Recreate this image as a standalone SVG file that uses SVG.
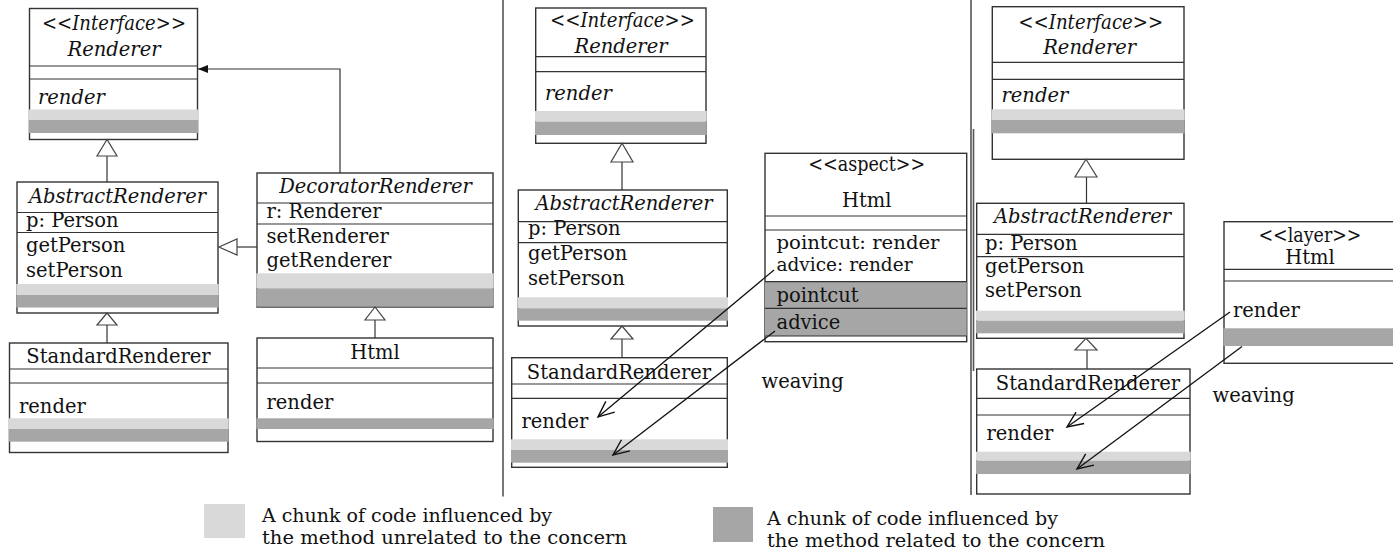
<svg xmlns="http://www.w3.org/2000/svg" width="1393" height="549" viewBox="0 0 1393 549">
  <style>
    text { font-family: "DejaVu Serif", "Liberation Serif", serif; font-size: 19.5px; fill: #111; }
    .it { font-style: italic; }
    .c { text-anchor: middle; }
    .sm { font-size: 18.5px; }
    .box { fill: #fff; stroke: #333; stroke-width: 1.4; }
    .dv { stroke: #333; stroke-width: 1.2; }
    .lt { fill: #d9d9d9; }
    .dk { fill: #a6a6a6; }
    .tri { fill: #fff; stroke: #444; stroke-width: 1.2; }
    .ln { fill: none; stroke: #333; stroke-width: 1.2; }
    .sep { stroke: #555; stroke-width: 1.6; }
    .weave { fill: none; stroke: #111; stroke-width: 1.3; marker-end: url(#open); }
  </style>
  <defs>
    <marker id="open" markerUnits="userSpaceOnUse" markerWidth="20" markerHeight="16" viewBox="0 0 20 16" refX="17" refY="8" orient="auto" overflow="visible">
      <path d="M1,1 L17,8 L1,15" fill="none" stroke="#111" stroke-width="1.4"/>
    </marker>
    <marker id="filled" markerUnits="userSpaceOnUse" markerWidth="10" markerHeight="8" viewBox="0 0 10 8" refX="10" refY="4" orient="auto">
      <path d="M0,0 L10,4 L0,8 Z" fill="#111"/>
    </marker>
  </defs>

  <rect width="1393" height="549" fill="#fff"/>

  <!-- panel separators -->
  <g id="separators">
    <line class="sep" x1="503" y1="0" x2="503" y2="496.5"/>
    <line class="sep" x1="971" y1="0" x2="971" y2="495"/>
    <line class="sep" x1="973.5" y1="129" x2="973.5" y2="371" stroke-width="1"/>
  </g>

  <!-- ===== Decorator pattern ===== -->
  <g id="l-renderer">
    <rect class="box" x="29.5" y="8.5" width="168" height="131"/>
    <line class="dv" x1="29.5" y1="66" x2="197.5" y2="66"/>
    <line class="dv" x1="29.5" y1="79" x2="197.5" y2="79"/>
    <rect class="lt" x="28.8" y="109.5" width="169.4" height="10.5"/>
    <rect class="dk" x="28.8" y="120" width="169.4" height="13"/>
    <text class="it c" x="114" y="30" textLength="144" lengthAdjust="spacingAndGlyphs">&lt;&lt;Interface&gt;&gt;</text>
    <text class="it c" x="114" y="56">Renderer</text>
    <text class="it" x="38" y="104">render</text>
  </g>

  <g id="l-abstract">
    <rect class="box" x="17" y="182" width="201" height="131"/>
    <line class="dv" x1="17" y1="212.5" x2="218" y2="212.5"/>
    <line class="dv" x1="17" y1="232.5" x2="218" y2="232.5"/>
    <rect class="lt" x="16.3" y="284" width="202.4" height="11"/>
    <rect class="dk" x="16.3" y="295" width="202.4" height="12.5"/>
    <text class="it c" x="117.5" y="203">AbstractRenderer</text>
    <text x="26" y="227">p: Person</text>
    <text x="26" y="252">getPerson</text>
    <text x="26" y="276.5">setPerson</text>
  </g>

  <g id="l-standard">
    <rect class="box" x="9.5" y="343" width="218.5" height="109.5"/>
    <line class="dv" x1="9.5" y1="369" x2="228" y2="369"/>
    <line class="dv" x1="9.5" y1="383" x2="228" y2="383"/>
    <rect class="lt" x="8.8" y="418.3" width="219.9" height="10.7"/>
    <rect class="dk" x="8.8" y="429" width="219.9" height="12.7"/>
    <text class="c" x="118.5" y="363">StandardRenderer</text>
    <text x="19" y="412.5">render</text>
  </g>

  <g id="l-decorator">
    <rect class="box" x="257" y="173" width="236" height="134"/>
    <line class="dv" x1="257" y1="203" x2="493" y2="203"/>
    <line class="dv" x1="257" y1="224" x2="493" y2="224"/>
    <rect class="lt" x="256.3" y="273.3" width="237.4" height="15"/>
    <rect class="dk" x="256.3" y="288.3" width="237.4" height="18.2"/>
    <text class="it c" x="375.5" y="193">DecoratorRenderer</text>
    <text x="266.5" y="218">r: Renderer</text>
    <text x="266.5" y="242.5">setRenderer</text>
    <text x="266.5" y="266.5">getRenderer</text>
  </g>

  <g id="l-html">
    <rect class="box" x="257" y="338" width="236" height="103.5"/>
    <line class="dv" x1="257" y1="368" x2="493" y2="368"/>
    <line class="dv" x1="257" y1="383" x2="493" y2="383"/>
    <rect class="dk" x="256.3" y="418.3" width="237.4" height="10.7"/>
    <text class="c" x="375" y="359">Html</text>
    <text x="266.5" y="409">render</text>
  </g>

  <!-- ===== Aspect version ===== -->
  <g id="m-renderer">
    <rect class="box" x="535.7" y="8" width="170.3" height="135.3"/>
    <line class="dv" x1="535.7" y1="56.7" x2="706" y2="56.7"/>
    <line class="dv" x1="535.7" y1="71.7" x2="706" y2="71.7"/>
    <rect class="lt" x="535" y="111" width="171.7" height="10.7"/>
    <rect class="dk" x="535" y="121.7" width="171.7" height="13.3"/>
    <text class="it c" x="622.5" y="27" textLength="145" lengthAdjust="spacingAndGlyphs">&lt;&lt;Interface&gt;&gt;</text>
    <text class="it c" x="621" y="53">Renderer</text>
    <text class="it" x="545" y="100">render</text>
  </g>

  <g id="m-abstract">
    <rect class="box" x="518.3" y="190" width="209" height="136"/>
    <line class="dv" x1="518.3" y1="221.7" x2="727.3" y2="221.7"/>
    <line class="dv" x1="518.3" y1="242.7" x2="727.3" y2="242.7"/>
    <rect class="lt" x="517.6" y="297.3" width="210.4" height="11"/>
    <rect class="dk" x="517.6" y="308.3" width="210.4" height="12.4"/>
    <text class="it c" x="624" y="210">AbstractRenderer</text>
    <text x="528" y="235">p: Person</text>
    <text x="528" y="259.5">getPerson</text>
    <text x="528" y="284.5">setPerson</text>
  </g>

  <g id="m-standard">
    <rect class="box" x="511.7" y="357.7" width="215.6" height="109.6"/>
    <line class="dv" x1="511.7" y1="384" x2="727.3" y2="384"/>
    <line class="dv" x1="511.7" y1="398.3" x2="727.3" y2="398.3"/>
    <rect class="lt" x="511" y="439.3" width="217" height="10.7"/>
    <rect class="dk" x="511" y="450" width="217" height="12.7"/>
    <text class="c" x="619" y="379">StandardRenderer</text>
    <text x="521.5" y="428">render</text>
  </g>

  <g id="m-aspect">
    <rect class="box" x="765" y="153.3" width="201.7" height="188.4"/>
    <line class="dv" x1="765" y1="216" x2="966.7" y2="216"/>
    <line class="dv" x1="765" y1="230" x2="966.7" y2="230"/>
    <rect class="dk" x="765" y="281.7" width="201.7" height="54.3"/>
    <line class="dv" x1="765" y1="281.7" x2="966.7" y2="281.7"/>
    <line class="dv" x1="765" y1="308.3" x2="966.7" y2="308.3"/>
    <line class="dv" x1="765" y1="336" x2="966.7" y2="336"/>
    <text class="c" x="866.7" y="171" textLength="117" lengthAdjust="spacingAndGlyphs">&lt;&lt;aspect&gt;&gt;</text>
    <text class="c" x="866.7" y="207">Html</text>
    <text class="sm" x="776.5" y="248.5" textLength="163" lengthAdjust="spacingAndGlyphs">pointcut: render</text>
    <text class="sm" x="776.5" y="270.5">advice: render</text>
    <text x="776.5" y="302">pointcut</text>
    <text x="776.5" y="329">advice</text>
  </g>

  <g id="m-weaving-label">
    <text x="761.5" y="388">weaving</text>
  </g>

  <!-- ===== Layer version ===== -->
  <g id="r-renderer">
    <rect class="box" x="992.3" y="6.7" width="191.7" height="152.6"/>
    <line class="dv" x1="992.3" y1="62.3" x2="1184" y2="62.3"/>
    <line class="dv" x1="992.3" y1="79.3" x2="1184" y2="79.3"/>
    <rect class="lt" x="991.6" y="109.3" width="193.1" height="10.7"/>
    <rect class="dk" x="991.6" y="120" width="193.1" height="13.3"/>
    <text class="it c" x="1090.8" y="29" textLength="145" lengthAdjust="spacingAndGlyphs">&lt;&lt;Interface&gt;&gt;</text>
    <text class="it c" x="1089.7" y="54">Renderer</text>
    <text class="it" x="1001.5" y="102">render</text>
  </g>

  <g id="r-abstract">
    <rect class="box" x="976.7" y="203.3" width="207.3" height="135"/>
    <line class="dv" x1="976.7" y1="234.3" x2="1184" y2="234.3"/>
    <line class="dv" x1="976.7" y1="256.7" x2="1184" y2="256.7"/>
    <rect class="lt" x="976" y="310.7" width="208.7" height="10"/>
    <rect class="dk" x="976" y="320.7" width="208.7" height="12.6"/>
    <text class="it c" x="1082.5" y="223">AbstractRenderer</text>
    <text x="985" y="250">p: Person</text>
    <text x="985" y="273">getPerson</text>
    <text x="985" y="296.5">setPerson</text>
  </g>

  <g id="r-standard">
    <rect class="box" x="976.7" y="369" width="213.3" height="125"/>
    <line class="dv" x1="976.7" y1="398.3" x2="1190" y2="398.3"/>
    <line class="dv" x1="976.7" y1="415" x2="1190" y2="415"/>
    <rect class="lt" x="976" y="451.7" width="214.7" height="9"/>
    <rect class="dk" x="976" y="460.7" width="214.7" height="13.3"/>
    <text class="c" x="1088" y="389.5">StandardRenderer</text>
    <text x="986.5" y="439.5">render</text>
  </g>

  <g id="r-layer">
    <rect class="box" x="1224" y="221.7" width="180" height="141.6"/>
    <line class="dv" x1="1224" y1="269.3" x2="1404" y2="269.3"/>
    <line class="dv" x1="1224" y1="281" x2="1404" y2="281"/>
    <rect class="dk" x="1223.3" y="328.3" width="181" height="17.7"/>
    <text class="c" x="1310" y="241.5" textLength="103" lengthAdjust="spacingAndGlyphs">&lt;&lt;layer&gt;&gt;</text>
    <text class="c" x="1310" y="263.5">Html</text>
    <text x="1233" y="316.5">render</text>
  </g>

  <g id="r-weaving-label">
    <text x="1212.5" y="401.5">weaving</text>
  </g>

  <!-- connectors: generalizations, association and weaving arrows -->
  <g id="connectors">
    <!-- decorator pattern -->
    <line class="ln" x1="107" y1="156" x2="107" y2="182"/>
    <polygon class="tri" points="107,139.5 97,156 117,156"/>
    <line class="ln" x1="107" y1="325" x2="107" y2="343"/>
    <polygon class="tri" points="107,313 97,325 117,325"/>
    <line class="ln" x1="237" y1="247" x2="257" y2="247"/>
    <polygon class="tri" points="219,247 237,239 237,255"/>
    <line class="ln" x1="375" y1="320" x2="375" y2="338"/>
    <polygon class="tri" points="375,307 365,320 385,320"/>
    <path class="ln" d="M340,173 V69 H198" marker-end="url(#filled)"/>

    <!-- aspect version -->
    <line class="ln" x1="622" y1="162" x2="622" y2="190"/>
    <polygon class="tri" points="622,143.3 611,162 633,162"/>
    <line class="ln" x1="622" y1="339" x2="622" y2="357.7"/>
    <polygon class="tri" points="622,326 611,339 633,339"/>
    <line class="weave" x1="774" y1="270" x2="598" y2="417"/>
    <line class="weave" x1="775" y1="331" x2="613" y2="455"/>

    <!-- layer version -->
    <line class="ln" x1="1086.5" y1="177" x2="1086.5" y2="203.3"/>
    <polygon class="tri" points="1086,159.3 1075,177 1097,177"/>
    <line class="ln" x1="1087" y1="350" x2="1087" y2="369"/>
    <polygon class="tri" points="1086,338.3 1075,350 1097,350"/>
    <line class="weave" x1="1230" y1="312" x2="1067" y2="427"/>
    <line class="weave" x1="1242" y1="346.5" x2="1077" y2="469"/>
  </g>

  <!-- legend -->
  <g id="legend">
    <rect class="lt" x="204" y="504" width="41" height="34"/>
    <text class="sm" x="262" y="522" textLength="290" lengthAdjust="spacingAndGlyphs">A chunk of code influenced by</text>
    <text class="sm" x="262" y="544" textLength="365" lengthAdjust="spacingAndGlyphs">the method unrelated to the concern</text>
    <rect class="dk" x="713" y="507" width="40" height="35"/>
    <text class="sm" x="767" y="524.5" textLength="291" lengthAdjust="spacingAndGlyphs">A chunk of code influenced by</text>
    <text class="sm" x="767" y="546.5" textLength="338" lengthAdjust="spacingAndGlyphs">the method related to the concern</text>
  </g>
</svg>
